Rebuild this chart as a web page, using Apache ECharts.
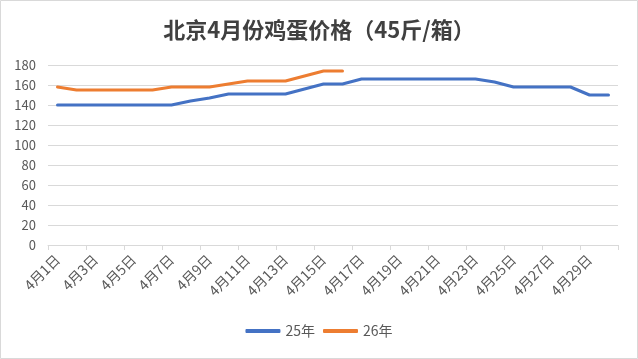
<!DOCTYPE html>
<html><head><meta charset="utf-8">
<script src="https://cdn.jsdelivr.net/npm/echarts@6/dist/echarts.min.js"></script>
<style>html,body{margin:0;padding:0;background:#fff}#c{width:638px;height:359px}</style>
</head><body><div id="c"></div>
<script>
const titleText = '北京4月份鸡蛋价格（45斤/箱）';
const categories = [];
for (let d = 1; d <= 30; d++) categories.push('4月' + d + '日');
const seriesNames = ['25年', '26年'];
const values25 = [140,140,140,140,140,140,140,144,147,151,151,151,151,156,161,161,166,166,166,166,166,166,166,163,158,158,158,158,150,150];
const values26 = [158,155,155,155,155,155,158,158,158,161,164,164,164,169,174,174];
const yTicks = {min: 0, max: 180, interval: 20};

const chart = echarts.init(document.getElementById('c'));
const font = '"Noto Sans CJK SC", "Microsoft YaHei", sans-serif';
chart.setOption({
  animation: false,
  textStyle: {fontFamily: font},
  graphic: [{type: 'rect', shape: {x: 0.5, y: 0.5, width: 637, height: 358}, style: {fill: 'none', stroke: '#d9d9d9', lineWidth: 1}}],
  title: {text: titleText, left: 'center', top: 14, textStyle: {fontSize: 22, fontWeight: 'bold', color: '#404040', fontFamily: font}},
  legend: {bottom: 16, left: 'center', itemWidth: 35, itemHeight: 4, itemGap: 8, icon: 'roundRect',
    textStyle: {fontSize: 14, color: '#595959', fontFamily: font}, data: seriesNames},
  grid: {left: 48, right: 20, top: 65, bottom: 114, containLabel: false},
  xAxis: {type: 'category', data: categories, boundaryGap: true,
    axisLine: {lineStyle: {color: '#d9d9d9'}},
    axisTick: {show: true, length: 5, lineStyle: {color: '#d9d9d9'}, interval: 1},
    axisLabel: {interval: 1, rotate: 45, color: '#595959', fontSize: 14, margin: 12, fontFamily: font}},
  yAxis: {type: 'value', min: yTicks.min, max: yTicks.max, interval: yTicks.interval,
    axisLine: {show: false}, axisTick: {show: false},
    splitLine: {lineStyle: {color: '#d9d9d9'}},
    axisLabel: {color: '#595959', fontSize: 13, margin: 12, fontFamily: font}},
  series: [
    {name: seriesNames[0], type: 'line', data: values25, symbol: 'none', lineStyle: {width: 3, color: '#4472C4', cap: 'round', join: 'round'}, itemStyle: {color: '#4472C4'}},
    {name: seriesNames[1], type: 'line', data: values26, symbol: 'none', lineStyle: {width: 3, color: '#ED7D31', cap: 'round', join: 'round'}, itemStyle: {color: '#ED7D31'}}
  ]
});
</script></body></html>
